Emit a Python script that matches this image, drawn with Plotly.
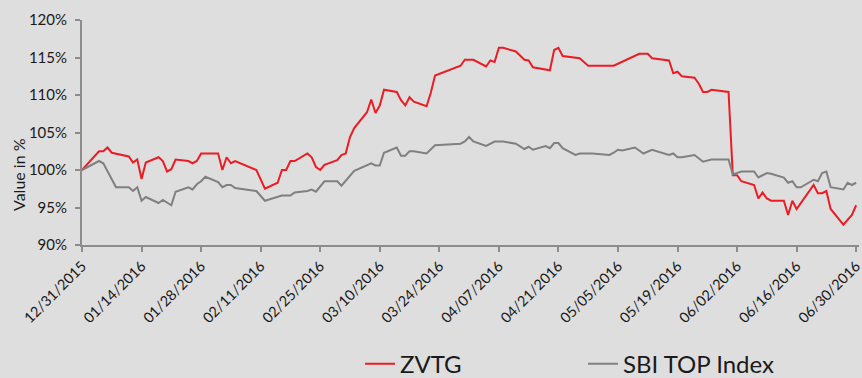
import plotly.graph_objects as go

# ZVTG share price, indexed to 100 on 31 Dec 2015 (%)
zvtg_dates = [
    "2015-12-31", "2016-01-04", "2016-01-05", "2016-01-06", "2016-01-07", "2016-01-08",
    "2016-01-11", "2016-01-12", "2016-01-13", "2016-01-14", "2016-01-15",
    "2016-01-18", "2016-01-19", "2016-01-20", "2016-01-21", "2016-01-22",
    "2016-01-25", "2016-01-26", "2016-01-27", "2016-01-28", "2016-01-29",
    "2016-02-01", "2016-02-02", "2016-02-03", "2016-02-04", "2016-02-05",
    "2016-02-10", "2016-02-12", "2016-02-15", "2016-02-16", "2016-02-17",
    "2016-02-18", "2016-02-19", "2016-02-22", "2016-02-23", "2016-02-24",
    "2016-02-25", "2016-02-26", "2016-02-29", "2016-03-01", "2016-03-02",
    "2016-03-03", "2016-03-04", "2016-03-07", "2016-03-08", "2016-03-09",
    "2016-03-10", "2016-03-11", "2016-03-14", "2016-03-15", "2016-03-16",
    "2016-03-17", "2016-03-18", "2016-03-21", "2016-03-22", "2016-03-23",
    "2016-03-29", "2016-03-30", "2016-04-01", "2016-04-04", "2016-04-05",
    "2016-04-06", "2016-04-07", "2016-04-08", "2016-04-11", "2016-04-13",
    "2016-04-14", "2016-04-15", "2016-04-19", "2016-04-20", "2016-04-21",
    "2016-04-22", "2016-04-26", "2016-04-28", "2016-05-04", "2016-05-10",
    "2016-05-12", "2016-05-13", "2016-05-17", "2016-05-18", "2016-05-19",
    "2016-05-20", "2016-05-23", "2016-05-24", "2016-05-25", "2016-05-26",
    "2016-05-27", "2016-05-31", "2016-06-01", "2016-06-02", "2016-06-03",
    "2016-06-06", "2016-06-07", "2016-06-08", "2016-06-09", "2016-06-10",
    "2016-06-13", "2016-06-14", "2016-06-15", "2016-06-16", "2016-06-20",
    "2016-06-21", "2016-06-22", "2016-06-23", "2016-06-24", "2016-06-27",
    "2016-06-29", "2016-06-30",
]
zvtg_values = [
    100.0, 102.5, 102.5, 103.0, 102.3, 102.2,
    101.8, 101.0, 101.4, 98.8, 101.0,
    101.7, 101.2, 99.8, 100.1, 101.4,
    101.2, 100.9, 101.2, 102.2, 102.2,
    102.2, 100.0, 101.7, 100.9, 101.2,
    100.0, 97.5, 98.3, 100.0, 100.0,
    101.2, 101.2, 102.2, 101.7, 100.4,
    100.0, 100.7, 101.3, 102.0, 102.2,
    104.4, 105.6, 107.7, 109.4, 107.6,
    108.6, 110.7, 110.4, 109.3, 108.6,
    109.7, 109.1, 108.5, 110.3, 112.6,
    113.9, 114.7, 114.7, 113.8, 114.6,
    114.4, 116.3, 116.3, 115.8, 114.7,
    114.6, 113.7, 113.3, 116.0, 116.3,
    115.2, 114.9, 113.9, 113.9, 115.5,
    115.5, 114.9, 114.6, 112.9, 113.1,
    112.5, 112.3, 111.5, 110.4, 110.4,
    110.7, 110.4, 99.3, 99.3, 98.5,
    98.0, 96.2, 97.0, 96.2, 95.9,
    95.9, 94.0, 95.9, 94.8, 98.0,
    96.9, 96.9, 97.2, 94.8, 92.7,
    94.0, 95.3,
]

# SBI TOP Index, indexed to 100 on 31 Dec 2015 (%)
sbi_dates = [
    "2015-12-31", "2016-01-04", "2016-01-05", "2016-01-08",
    "2016-01-11", "2016-01-12", "2016-01-13", "2016-01-14", "2016-01-15",
    "2016-01-18", "2016-01-19", "2016-01-21", "2016-01-22",
    "2016-01-25", "2016-01-26", "2016-01-27", "2016-01-28", "2016-01-29",
    "2016-02-01", "2016-02-02", "2016-02-03", "2016-02-04", "2016-02-05",
    "2016-02-10", "2016-02-12", "2016-02-15", "2016-02-16", "2016-02-18",
    "2016-02-19", "2016-02-22", "2016-02-23", "2016-02-24", "2016-02-26",
    "2016-02-29", "2016-03-01", "2016-03-04", "2016-03-08", "2016-03-09",
    "2016-03-10", "2016-03-11", "2016-03-14", "2016-03-15", "2016-03-16",
    "2016-03-17", "2016-03-18", "2016-03-21", "2016-03-22", "2016-03-23",
    "2016-03-29", "2016-03-30", "2016-03-31", "2016-04-01", "2016-04-04",
    "2016-04-06", "2016-04-08", "2016-04-11", "2016-04-13", "2016-04-14",
    "2016-04-15", "2016-04-18", "2016-04-19", "2016-04-20", "2016-04-21",
    "2016-04-22", "2016-04-25", "2016-04-26", "2016-04-29", "2016-05-03",
    "2016-05-04", "2016-05-05", "2016-05-06", "2016-05-09", "2016-05-11",
    "2016-05-13", "2016-05-17", "2016-05-18", "2016-05-19", "2016-05-20",
    "2016-05-23", "2016-05-25", "2016-05-27", "2016-05-31", "2016-06-01",
    "2016-06-03", "2016-06-06", "2016-06-07", "2016-06-09", "2016-06-10",
    "2016-06-13", "2016-06-14", "2016-06-15", "2016-06-16", "2016-06-17",
    "2016-06-20", "2016-06-21", "2016-06-22", "2016-06-23", "2016-06-24",
    "2016-06-27", "2016-06-28", "2016-06-29", "2016-06-30",
]
sbi_values = [
    100.0, 101.2, 100.9, 97.7,
    97.7, 97.2, 97.7, 95.9, 96.4,
    95.6, 96.0, 95.3, 97.1,
    97.7, 97.4, 98.1, 98.5, 99.1,
    98.4, 97.7, 98.0, 98.0, 97.6,
    97.2, 95.9, 96.4, 96.6, 96.6,
    97.0, 97.2, 97.4, 97.1, 98.5,
    98.5, 97.9, 99.9, 100.9, 100.6,
    100.6, 102.3, 103.0, 101.9, 101.9,
    102.5, 102.5, 102.2, 102.7, 103.3,
    103.5, 103.8, 104.4, 103.8, 103.2,
    103.8, 103.8, 103.5, 102.8, 103.1,
    102.7, 103.2, 102.9, 103.6, 103.6,
    102.9, 102.0, 102.2, 102.2, 102.0,
    102.3, 102.7, 102.6, 103.0, 102.2,
    102.7, 102.0, 102.2, 101.7, 101.7,
    102.0, 101.1, 101.4, 101.4, 99.4,
    99.8, 99.8, 99.0, 99.6, 99.5,
    99.0, 98.3, 98.5, 97.7, 97.7,
    98.7, 98.5, 99.6, 99.8, 97.7,
    97.4, 98.3, 98.0, 98.3,
]

# Axis ticks
x_ticks = [
    "2015-12-31", "2016-01-14", "2016-01-28", "2016-02-11", "2016-02-25",
    "2016-03-10", "2016-03-24", "2016-04-07", "2016-04-21", "2016-05-05",
    "2016-05-19", "2016-06-02", "2016-06-16", "2016-06-30",
]
x_tick_labels = [
    "12/31/2015", "01/14/2016", "01/28/2016", "02/11/2016", "02/25/2016",
    "03/10/2016", "03/24/2016", "04/07/2016", "04/21/2016", "05/05/2016",
    "05/19/2016", "06/02/2016", "06/16/2016", "06/30/2016",
]
y_ticks = [90, 95, 100, 105, 110, 115, 120]
y_tick_labels = [f"{v}%" for v in y_ticks]

BG = "#dedede"
AXIS = "#8c8c8c"
TEXT = "#1a1a1a"
FONT = "Lato, 'Open Sans', sans-serif"

fig = go.Figure()
fig.add_trace(go.Scatter(
    x=zvtg_dates, y=zvtg_values, name="ZVTG", mode="lines",
    line=dict(color="#ec1c24", width=2),
))
fig.add_trace(go.Scatter(
    x=sbi_dates, y=sbi_values, name="SBI TOP Index", mode="lines",
    line=dict(color="#808080", width=2),
))

fig.update_layout(
    width=862, height=378,
    margin=dict(l=82, r=3, t=20, b=133, autoexpand=False),
    paper_bgcolor=BG, plot_bgcolor=BG,
    font=dict(family=FONT, color=TEXT, size=14),
    showlegend=True,
    legend=dict(
        orientation="h", x=(360 - 82) / 777, xanchor="left",
        y=-0.43, yanchor="top",
        font=dict(size=24, color=TEXT),
        bgcolor="rgba(0,0,0,0)", entrywidth=178, entrywidthmode="pixels",
    ),
    xaxis=dict(
        type="date",
        range=["2015-12-31", "2016-06-30 16:00"],
        tickvals=x_ticks, ticktext=x_tick_labels, tickangle=-45,
        ticklabeloverflow="allow",
        showgrid=False, zeroline=False,
        showline=True, linecolor=AXIS, linewidth=2,
        ticks="outside", ticklen=5, tickwidth=2, tickcolor=AXIS,
        tickfont=dict(size=14.5, color=TEXT),
    ),
    yaxis=dict(
        range=[90, 120], tickvals=y_ticks, ticktext=y_tick_labels,
        showgrid=False, zeroline=False,
        showline=True, linecolor=AXIS, linewidth=2,
        ticks="outside", ticklen=5, tickwidth=2, tickcolor=AXIS,
        tickfont=dict(size=15, color=TEXT),
        ticklabelstandoff=5,
    ),
    annotations=[dict(
        text="Value in %", textangle=-90,
        xref="paper", yref="paper",
        x=-64 / 777, y=(245 - 175) / 225,
        xanchor="center", yanchor="middle", showarrow=False,
        font=dict(size=16, color=TEXT),
    )],
)

fig.write_html("out.html")
